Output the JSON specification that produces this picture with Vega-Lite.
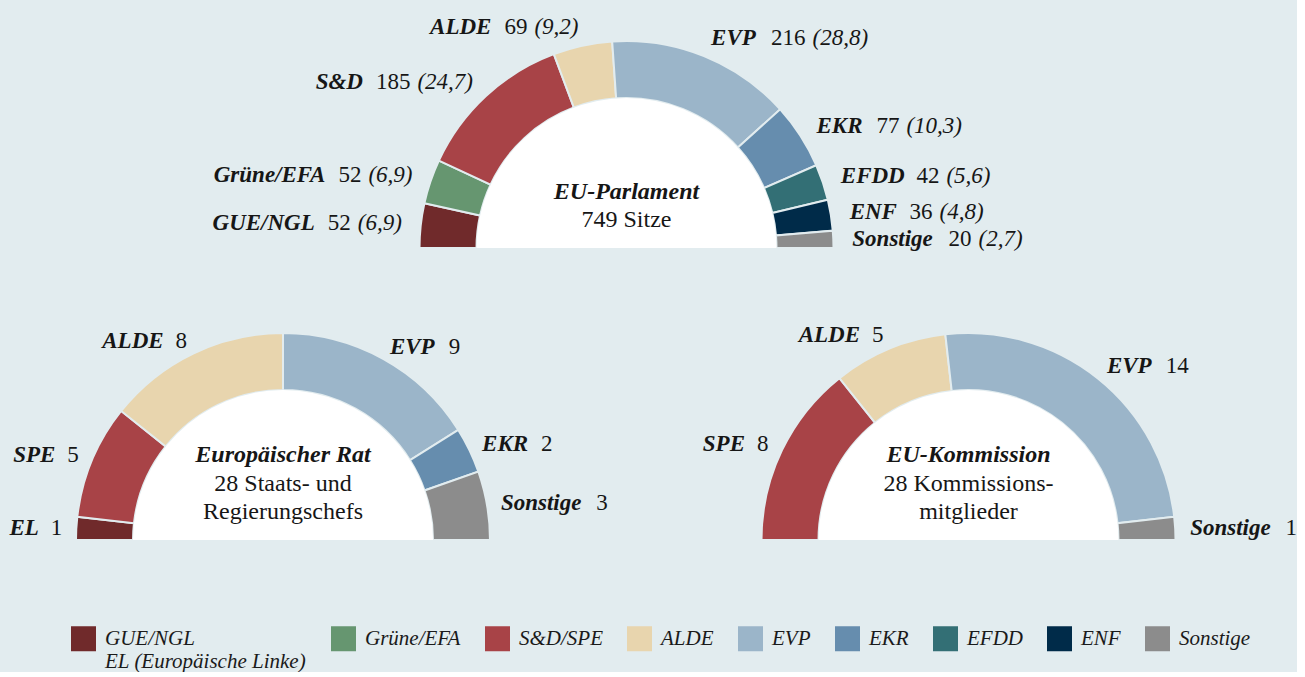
{
  "$schema": "https://vega.github.io/schema/vega-lite/v6.json",
  "background": "#e2ecef",
  "padding": 0,
  "bounds": "flush",
  "spacing": 12,
  "config": {"view": {"stroke": null}, "text": {"font": "Liberation Serif", "color": "#161616"}},
  "datasets": {
    "parlament": [
      {"partei": "GUE/NGL", "farbe": "GUE/NGL", "sitze": 52, "anteil": 6.9},
      {"partei": "Grüne/EFA", "farbe": "Grüne/EFA", "sitze": 52, "anteil": 6.9},
      {"partei": "S&D", "farbe": "S&D/SPE", "sitze": 185, "anteil": 24.7},
      {"partei": "ALDE", "farbe": "ALDE", "sitze": 69, "anteil": 9.2},
      {"partei": "EVP", "farbe": "EVP", "sitze": 216, "anteil": 28.8},
      {"partei": "EKR", "farbe": "EKR", "sitze": 77, "anteil": 10.3},
      {"partei": "EFDD", "farbe": "EFDD", "sitze": 42, "anteil": 5.6},
      {"partei": "ENF", "farbe": "ENF", "sitze": 36, "anteil": 4.8},
      {"partei": "Sonstige", "farbe": "Sonstige", "sitze": 20, "anteil": 2.7}
    ],
    "rat": [
      {"partei": "EL", "farbe": "GUE/NGL", "sitze": 1},
      {"partei": "SPE", "farbe": "S&D/SPE", "sitze": 5},
      {"partei": "ALDE", "farbe": "ALDE", "sitze": 8},
      {"partei": "EVP", "farbe": "EVP", "sitze": 9},
      {"partei": "EKR", "farbe": "EKR", "sitze": 2},
      {"partei": "Sonstige", "farbe": "Sonstige", "sitze": 3}
    ],
    "kommission": [
      {"partei": "SPE", "farbe": "S&D/SPE", "sitze": 8},
      {"partei": "ALDE", "farbe": "ALDE", "sitze": 5},
      {"partei": "EVP", "farbe": "EVP", "sitze": 14},
      {"partei": "Sonstige", "farbe": "Sonstige", "sitze": 1}
    ]
  },
  "vconcat": [
    {
      "width": 1253,
      "height": 248,
      "layer": [
        {
          "data": {"name": "parlament"},
          "transform": [{"window": [{"op": "row_number", "as": "rang"}]}, {"joinaggregate": [{"op": "sum", "field": "sitze", "as": "gesamt"}]}],
          "mark": {"type": "arc", "y": "height", "outerRadius": 207, "innerRadius": 150, "stroke": "#e2ecef", "strokeWidth": 2},
          "encoding": {
            "theta": {"field": "sitze", "type": "quantitative", "stack": true, "scale": {"range": [-1.5707963, 1.5707963], "nice": false, "zero": true}},
            "order": {"field": "rang", "type": "quantitative"},
            "color": {
              "field": "farbe", "type": "nominal",
              "scale": {"domain": ["GUE/NGL", "Grüne/EFA", "S&D/SPE", "ALDE", "EVP", "EKR", "EFDD", "ENF", "Sonstige"],
                        "range": ["#702a2b", "#669670", "#a84347", "#e8d5ae", "#9bb5c9", "#668dae", "#336f75", "#002b49", "#8c8c8c"]},
              "legend": {
                "orient": "none", "legendX": 71, "legendY": 626, "direction": "horizontal", "title": null,
                "symbolType": "square", "symbolSize": 625, "symbolStrokeWidth": 0, "padding": 0,
                "labelFont": "Liberation Serif", "labelFontStyle": "italic", "labelFontSize": 21, "labelColor": "#1a1a1a",
                "labelOffset": 9, "labelLimit": 0, "columnPadding": 24, "labelBaseline": "middle",
                "labelExpr": "datum.label == 'GUE/NGL' ? ['GUE/NGL', 'EL (Europäische Linke)'] : [datum.label, '']",
                "encode": {"labels": {"lineHeight": {"value": 27}}}
              }
            }
          }
        },
        {
          "data": {"values": [{"titel": "EU-Parlament", "zeile1": "749 Sitze"}]},
          "layer": [
            {"mark": {"type": "arc", "y": "height", "theta": -1.5707963, "theta2": 1.5707963, "outerRadius": 150, "innerRadius": 0, "fill": "#ffffff"}, "encoding": {}},
            {"mark": {"type": "text", "y": "height", "dy": -56, "baseline": "middle", "fontSize": 24, "fontWeight": "bold", "fontStyle": "italic"}, "encoding": {"text": {"field": "titel"}}},
            {"mark": {"type": "text", "y": "height", "dy": -28, "baseline": "middle", "fontSize": 24}, "encoding": {"text": {"field": "zeile1"}}}
          ]
        },
        {
          "data": {"name": "parlament"},
          "transform": [{"window": [{"op": "row_number", "as": "rang"}]}, {"joinaggregate": [{"op": "sum", "field": "sitze", "as": "gesamt"}]}],
          "encoding": {
            "theta": {"field": "sitze", "type": "quantitative", "stack": true, "scale": {"range": [-1.5707963, 1.5707963], "nice": false, "zero": true}},
            "order": {"field": "rang", "type": "quantitative"}
          },
          "layer": [
            {
              "mark": {"type": "text", "y": "height", "radius": 226, "baseline": "middle", "fontSize": 23, "fontWeight": "bold", "fontStyle": "italic",
                       "align": {"expr": "datum.sitze_start + datum.sitze_end < datum.gesamt ? 'right' : 'left'"},
                       "dx": {"expr": "datum.sitze_start + datum.sitze_end < datum.gesamt ? -(11.5*length(toString(datum.sitze)) + 11.5*length(format(datum.anteil, '.1f')) + 29.58) : 0"}},
              "encoding": {"text": {"field": "partei"}}
            },
            {
              "mark": {"type": "text", "y": "height", "radius": 226, "baseline": "middle", "fontSize": 23,
                       "align": {"expr": "datum.sitze_start + datum.sitze_end < datum.gesamt ? 'right' : 'left'"},
                       "dx": {"expr": "datum.sitze_start + datum.sitze_end < datum.gesamt ? -(11.5*length(format(datum.anteil, '.1f')) + 16.58) : (23*(0.26*length(replace(datum.partei, regexp('[^A-Z]', 'g'), '')) + 0.42*length(datum.partei)) + 13)"}},
              "encoding": {"text": {"field": "sitze", "type": "quantitative"}}
            },
            {
              "mark": {"type": "text", "y": "height", "radius": 226, "baseline": "middle", "fontSize": 23, "fontStyle": "italic",
                       "align": {"expr": "datum.sitze_start + datum.sitze_end < datum.gesamt ? 'right' : 'left'"},
                       "dx": {"expr": "datum.sitze_start + datum.sitze_end < datum.gesamt ? 0 : (23*(0.26*length(replace(datum.partei, regexp('[^A-Z]', 'g'), '')) + 0.42*length(datum.partei)) + 20 + 11.5*length(toString(datum.sitze)))"},
                       "text": {"expr": "'(' + replace(format(datum.anteil, '.1f'), '.', ',') + ')'"}},
              "encoding": {}
            }
          ]
        }
      ]
    },
    {
      "hconcat": [
        {
          "width": 566,
          "height": 280,
          "layer": [
            {
              "data": {"name": "rat"},
              "transform": [{"window": [{"op": "row_number", "as": "rang"}]}, {"joinaggregate": [{"op": "sum", "field": "sitze", "as": "gesamt"}]}],
              "mark": {"type": "arc", "y": "height", "outerRadius": 207, "innerRadius": 150, "stroke": "#e2ecef", "strokeWidth": 2},
              "encoding": {
                "theta": {"field": "sitze", "type": "quantitative", "stack": true, "scale": {"range": [-1.5707963, 1.5707963], "nice": false, "zero": true}},
                "order": {"field": "rang", "type": "quantitative"},
                "color": {
                  "field": "farbe", "type": "nominal",
                  "scale": {"domain": ["GUE/NGL", "Grüne/EFA", "S&D/SPE", "ALDE", "EVP", "EKR", "EFDD", "ENF", "Sonstige"],
                            "range": ["#702a2b", "#669670", "#a84347", "#e8d5ae", "#9bb5c9", "#668dae", "#336f75", "#002b49", "#8c8c8c"]},
                  "legend": {
                    "orient": "none", "legendX": 71, "legendY": 626, "direction": "horizontal", "title": null,
                    "symbolType": "square", "symbolSize": 625, "symbolStrokeWidth": 0, "padding": 0,
                    "labelFont": "Liberation Serif", "labelFontStyle": "italic", "labelFontSize": 21, "labelColor": "#1a1a1a",
                    "labelOffset": 9, "labelLimit": 0, "columnPadding": 24, "labelBaseline": "middle",
                    "labelExpr": "datum.label == 'GUE/NGL' ? ['GUE/NGL', 'EL (Europäische Linke)'] : [datum.label, '']",
                    "encode": {"labels": {"lineHeight": {"value": 27}}}
                  }
                }
              }
            },
            {
              "data": {"values": [{"titel": "Europäischer Rat", "zeile1": "28 Staats- und", "zeile2": "Regierungschefs"}]},
              "layer": [
                {"mark": {"type": "arc", "y": "height", "theta": -1.5707963, "theta2": 1.5707963, "outerRadius": 150, "innerRadius": 0, "fill": "#ffffff"}, "encoding": {}},
                {"mark": {"type": "text", "y": "height", "dy": -85, "baseline": "middle", "fontSize": 24, "fontWeight": "bold", "fontStyle": "italic"}, "encoding": {"text": {"field": "titel"}}},
                {"mark": {"type": "text", "y": "height", "dy": -56, "baseline": "middle", "fontSize": 24}, "encoding": {"text": {"field": "zeile1"}}},
                {"mark": {"type": "text", "y": "height", "dy": -28, "baseline": "middle", "fontSize": 24}, "encoding": {"text": {"field": "zeile2"}}}
              ]
            },
            {
              "data": {"name": "rat"},
              "transform": [{"window": [{"op": "row_number", "as": "rang"}]}, {"joinaggregate": [{"op": "sum", "field": "sitze", "as": "gesamt"}]}],
              "encoding": {
                "theta": {"field": "sitze", "type": "quantitative", "stack": true, "scale": {"range": [-1.5707963, 1.5707963], "nice": false, "zero": true}},
                "order": {"field": "rang", "type": "quantitative"}
              },
              "layer": [
                {
                  "mark": {"type": "text", "y": "height", "radius": 221, "baseline": "middle", "fontSize": 23, "fontWeight": "bold", "fontStyle": "italic",
                           "align": {"expr": "datum.sitze_start + datum.sitze_end < datum.gesamt ? 'right' : 'left'"},
                           "dx": {"expr": "datum.sitze_start + datum.sitze_end < datum.gesamt ? -(11.5*length(toString(datum.sitze)) + 12) : 0"}},
                  "encoding": {"text": {"field": "partei"}}
                },
                {
                  "mark": {"type": "text", "y": "height", "radius": 221, "baseline": "middle", "fontSize": 23,
                           "align": {"expr": "datum.sitze_start + datum.sitze_end < datum.gesamt ? 'right' : 'left'"},
                           "dx": {"expr": "datum.sitze_start + datum.sitze_end < datum.gesamt ? 0 : (23*(0.26*length(replace(datum.partei, regexp('[^A-Z]', 'g'), '')) + 0.42*length(datum.partei)) + 12)"}},
                  "encoding": {"text": {"field": "sitze", "type": "quantitative"}}
                }
              ]
            }
          ]
        },
        {
          "width": 566,
          "height": 280,
          "layer": [
            {
              "data": {"name": "kommission"},
              "transform": [{"window": [{"op": "row_number", "as": "rang"}]}, {"joinaggregate": [{"op": "sum", "field": "sitze", "as": "gesamt"}]}],
              "mark": {"type": "arc", "y": "height", "outerRadius": 207, "innerRadius": 150, "stroke": "#e2ecef", "strokeWidth": 2},
              "encoding": {
                "theta": {"field": "sitze", "type": "quantitative", "stack": true, "scale": {"range": [-1.5707963, 1.5707963], "nice": false, "zero": true}},
                "order": {"field": "rang", "type": "quantitative"},
                "color": {
                  "field": "farbe", "type": "nominal",
                  "scale": {"domain": ["GUE/NGL", "Grüne/EFA", "S&D/SPE", "ALDE", "EVP", "EKR", "EFDD", "ENF", "Sonstige"],
                            "range": ["#702a2b", "#669670", "#a84347", "#e8d5ae", "#9bb5c9", "#668dae", "#336f75", "#002b49", "#8c8c8c"]},
                  "legend": {
                    "orient": "none", "legendX": 71, "legendY": 626, "direction": "horizontal", "title": null,
                    "symbolType": "square", "symbolSize": 625, "symbolStrokeWidth": 0, "padding": 0,
                    "labelFont": "Liberation Serif", "labelFontStyle": "italic", "labelFontSize": 21, "labelColor": "#1a1a1a",
                    "labelOffset": 9, "labelLimit": 0, "columnPadding": 24, "labelBaseline": "middle",
                    "labelExpr": "datum.label == 'GUE/NGL' ? ['GUE/NGL', 'EL (Europäische Linke)'] : [datum.label, '']",
                    "encode": {"labels": {"lineHeight": {"value": 27}}}
                  }
                }
              }
            },
            {
              "data": {"values": [{"titel": "EU-Kommission", "zeile1": "28 Kommissions-", "zeile2": "mitglieder"}]},
              "layer": [
                {"mark": {"type": "arc", "y": "height", "theta": -1.5707963, "theta2": 1.5707963, "outerRadius": 150, "innerRadius": 0, "fill": "#ffffff"}, "encoding": {}},
                {"mark": {"type": "text", "y": "height", "dy": -85, "baseline": "middle", "fontSize": 24, "fontWeight": "bold", "fontStyle": "italic"}, "encoding": {"text": {"field": "titel"}}},
                {"mark": {"type": "text", "y": "height", "dy": -56, "baseline": "middle", "fontSize": 24}, "encoding": {"text": {"field": "zeile1"}}},
                {"mark": {"type": "text", "y": "height", "dy": -28, "baseline": "middle", "fontSize": 24}, "encoding": {"text": {"field": "zeile2"}}}
              ]
            },
            {
              "data": {"name": "kommission"},
              "transform": [{"window": [{"op": "row_number", "as": "rang"}]}, {"joinaggregate": [{"op": "sum", "field": "sitze", "as": "gesamt"}]}],
              "encoding": {
                "theta": {"field": "sitze", "type": "quantitative", "stack": true, "scale": {"range": [-1.5707963, 1.5707963], "nice": false, "zero": true}},
                "order": {"field": "rang", "type": "quantitative"}
              },
              "layer": [
                {
                  "mark": {"type": "text", "y": "height", "radius": 222, "baseline": "middle", "fontSize": 23, "fontWeight": "bold", "fontStyle": "italic",
                           "align": {"expr": "datum.sitze_start + datum.sitze_end < datum.gesamt ? 'right' : 'left'"},
                           "dx": {"expr": "datum.sitze_start + datum.sitze_end < datum.gesamt ? -(11.5*length(toString(datum.sitze)) + 12) : 0"}},
                  "encoding": {"text": {"field": "partei"}}
                },
                {
                  "mark": {"type": "text", "y": "height", "radius": 222, "baseline": "middle", "fontSize": 23,
                           "align": {"expr": "datum.sitze_start + datum.sitze_end < datum.gesamt ? 'right' : 'left'"},
                           "dx": {"expr": "datum.sitze_start + datum.sitze_end < datum.gesamt ? 0 : (23*(0.26*length(replace(datum.partei, regexp('[^A-Z]', 'g'), '')) + 0.42*length(datum.partei)) + 12)"}},
                  "encoding": {"text": {"field": "sitze", "type": "quantitative"}}
                }
              ]
            }
          ]
        }
      ],
      "spacing": 119.5,
      "bounds": "flush",
      "resolve": {"scale": {"color": "shared", "theta": "independent"}, "legend": {"color": "shared"}}
    }
  ],
  "resolve": {"scale": {"color": "shared", "theta": "independent"}, "legend": {"color": "shared"}}
}
